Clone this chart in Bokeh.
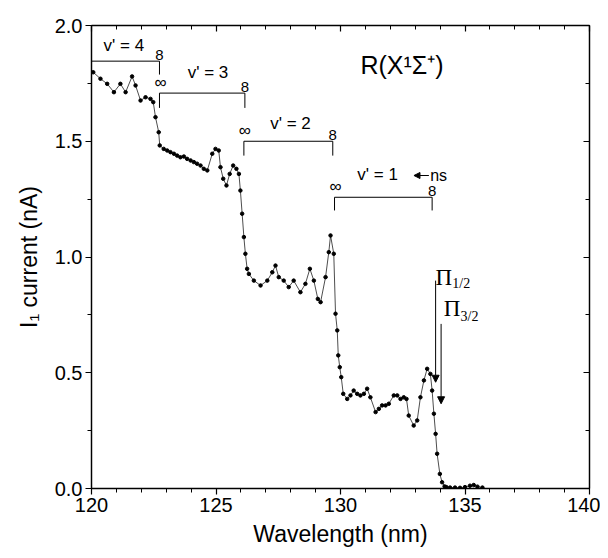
from bokeh.plotting import figure
from bokeh.models import (LinearAxis, SingleIntervalTicker, PrintfTickFormatter,
                          CustomJSTickFormatter, Arrow, NormalHead, ColumnDataSource)
from bokeh.core.properties import value
from bokeh.embed import file_html
from bokeh.resources import INLINE

# ---- data ----
wavelength = [120.07, 120.36, 120.63, 120.90, 121.16, 121.37, 121.63, 121.77, 121.97, 122.17,
              122.37, 122.48, 122.57, 122.70, 122.74, 122.90, 123.04, 123.17, 123.31, 123.44,
              123.57, 123.71, 123.84, 123.98, 124.11, 124.24, 124.38, 124.51, 124.65, 124.85,
              124.98, 125.11, 125.18, 125.29, 125.42, 125.55, 125.69, 125.82, 125.92, 125.98,
              126.05, 126.12, 126.18, 126.25, 126.32, 126.52, 126.79, 127.06, 127.26, 127.39,
              127.52, 127.72, 127.92, 128.12, 128.39, 128.59, 128.77, 128.93, 129.09, 129.20,
              129.40, 129.53, 129.60, 129.73, 129.80, 129.87, 129.91, 129.97, 130.03, 130.11,
              130.27, 130.40, 130.53, 130.67, 130.80, 130.94, 131.07, 131.20, 131.41, 131.54,
              131.67, 131.81, 131.94, 132.14, 132.28, 132.41, 132.54, 132.65, 132.74, 132.94,
              133.08, 133.21, 133.35, 133.48, 133.61, 133.68, 133.75, 133.82, 133.88, 133.99,
              134.08, 134.18, 134.25, 134.40, 134.60, 134.80, 135.00, 135.20, 135.35, 135.50,
              135.70]
current = [1.798, 1.770, 1.748, 1.712, 1.748, 1.712, 1.780, 1.741, 1.676, 1.690,
           1.683, 1.669, 1.604, 1.539, 1.482, 1.467, 1.460, 1.453, 1.446, 1.438,
           1.431, 1.434, 1.424, 1.417, 1.410, 1.403, 1.395, 1.381, 1.374, 1.446,
           1.467, 1.460, 1.388, 1.338, 1.309, 1.359, 1.395, 1.381, 1.359, 1.287,
           1.187, 1.086, 1.014, 0.949, 0.927, 0.898, 0.877, 0.898, 0.934, 0.963,
           0.913, 0.898, 0.870, 0.898, 0.848, 0.884, 0.949, 0.898, 0.819, 0.805,
           0.913, 1.021, 1.093, 1.014, 0.755, 0.683, 0.575, 0.524, 0.481, 0.409,
           0.387, 0.402, 0.423, 0.409, 0.402, 0.409, 0.431, 0.394, 0.330, 0.344,
           0.359, 0.359, 0.366, 0.402, 0.402, 0.387, 0.394, 0.387, 0.315, 0.272,
           0.294, 0.394, 0.467, 0.517, 0.495, 0.423, 0.323, 0.236, 0.150, 0.063,
           0.027, 0.009, 0.006, 0.004, 0.004, 0.003, 0.006, 0.012, 0.015, 0.008,
           0.004]

# bracket annotations (band-head series v' = 4..1)
band_labels = ["v' = 4", "v' = 3", "v' = 2", "v' = 1"]
band_label_x = [121.3, 124.68, 127.99, 131.49]
band_label_y = [1.913, 1.798, 1.575, 1.355]
bracket_start = [120.0, 122.73, 126.12, 129.76]
bracket_end = [122.73, 126.16, 129.69, 133.68]
bracket_y = [1.846, 1.708, 1.500, 1.258]
bracket_drop = [0.058, 0.064, 0.062, 0.057]

x_ticks_major = 5
y_ticks_major = 0.5

p = figure(frame_width=498, frame_height=463, x_range=(120, 140), y_range=(0, 2.0),
           output_backend="svg", toolbar_location=None,
           min_border_left=91, min_border_right=11, min_border_top=25, min_border_bottom=62)
p.xgrid.visible = False
p.ygrid.visible = False
p.background_fill_color = "white"
p.border_fill_color = "white"
p.outline_line_color = "black"
p.outline_line_width = 1.2

FONT = "Liberation Sans"

def style_axis(ax, show_labels, tick_in):
    ax.axis_line_color = "black"
    ax.axis_line_width = 1.3
    ax.major_tick_line_color = "black"
    ax.minor_tick_line_color = "black"
    ax.major_tick_line_width = 1.2
    ax.minor_tick_line_width = 1.0
    if tick_in:
        ax.major_tick_in = 6
        ax.major_tick_out = 0
        ax.minor_tick_in = 4
        ax.minor_tick_out = 0
    else:
        ax.major_tick_in = 0
        ax.major_tick_out = 6
        ax.minor_tick_in = 0
        ax.minor_tick_out = 4
    if show_labels:
        ax.major_label_text_font = FONT
        ax.major_label_text_font_size = "20px"
        ax.major_label_text_color = "black"
    else:
        ax.formatter = CustomJSTickFormatter(code="return ''")

xt = SingleIntervalTicker(interval=x_ticks_major, num_minor_ticks=5)
yt = SingleIntervalTicker(interval=y_ticks_major, num_minor_ticks=2)

p.xaxis.ticker = xt
p.yaxis.ticker = yt
p.xaxis.formatter = PrintfTickFormatter(format="%d")
p.yaxis.formatter = PrintfTickFormatter(format="%.1f")
style_axis(p.xaxis[0], True, False)
style_axis(p.yaxis[0], True, False)
p.xaxis.axis_label = "Wavelength (nm)"
p.yaxis.axis_label = "I\u2081 current (nA)"
for ax in (p.xaxis[0], p.yaxis[0]):
    ax.axis_label_text_font = FONT
    ax.axis_label_text_font_size = "23px"
    ax.axis_label_text_font_style = "normal"
    ax.axis_label_text_color = "black"
p.xaxis.major_label_standoff = 3
p.xaxis.axis_label_standoff = 6
p.yaxis.major_label_standoff = 3
p.yaxis.axis_label_standoff = 10

top = LinearAxis(ticker=SingleIntervalTicker(interval=x_ticks_major, num_minor_ticks=5))
style_axis(top, False, True)
p.add_layout(top, "above")
right = LinearAxis(ticker=SingleIntervalTicker(interval=y_ticks_major, num_minor_ticks=2))
style_axis(right, False, True)
p.add_layout(right, "right")

# data
src = ColumnDataSource(dict(x=wavelength, y=current))
p.line("x", "y", source=src, line_color="black", line_width=0.7)
p.scatter("x", "y", source=src, size=3.5, color="black")

# brackets
p.segment(x0=bracket_start, y0=bracket_y, x1=bracket_end, y1=bracket_y,
          line_color="black", line_width=1)
p.segment(x0=bracket_end, y0=bracket_y, x1=bracket_end,
          y1=[b - d for b, d in zip(bracket_y, bracket_drop)], line_color="black", line_width=1)
p.segment(x0=bracket_start[1:], y0=bracket_y[1:], x1=bracket_start[1:],
          y1=[b - d for b, d in zip(bracket_y[1:], bracket_drop[1:])], line_color="black", line_width=1)
p.text(x=bracket_end, y=[b + 0.004 for b in bracket_y], text=["8"] * 4,
       text_font=value(FONT), text_font_size="15px", text_align="center",
       text_baseline="bottom", text_color="black")
p.text(x=[s + 0.04 for s in bracket_start[1:]], y=[b + 0.004 for b in bracket_y[1:]],
       text=["\u221e"] * 3, text_font=value(FONT), text_font_size="17px",
       text_align="center", text_baseline="bottom", text_color="black")
p.text(x=band_label_x, y=band_label_y, text=band_labels, text_font=value(FONT),
       text_font_size="17px", text_align="center", text_baseline="middle", text_color="black")

# ns arrow
p.add_layout(Arrow(end=NormalHead(size=6, fill_color="black", line_color="black"),
                   x_start=133.55, y_start=1.352, x_end=132.95, y_end=1.352,
                   line_color="black", line_width=1))
p.text(x=[133.6], y=[1.352], text=["ns"], text_font=value(FONT), text_font_size="16px",
       text_align="left", text_baseline="middle", text_color="black")

# title label
p.text(x=[130.8], y=[1.83], text=["R(X\u00b9\u03a3\u207a)"], text_font=value(FONT),
       text_font_size="25px", text_align="left", text_baseline="middle", text_color="black")

# Pi labels and arrows
SERIF = "Liberation Serif"
p.text(x=[133.82, 134.15], y=[0.913, 0.776], text=["\u03a0", "\u03a0"],
       text_font=value(SERIF), text_font_size="23px", text_align="left",
       text_baseline="alphabetic", text_color="black")
p.text(x=[134.49, 134.82], y=[0.887, 0.743], text=["1/2", "3/2"],
       text_font=value(SERIF), text_font_size="14px", text_align="left",
       text_baseline="alphabetic", text_color="black")
for xa, ys, ye in [(133.82, 0.898, 0.459), (134.04, 0.711, 0.366)]:
    p.add_layout(Arrow(end=NormalHead(size=7, fill_color="black", line_color="black"),
                       x_start=xa, y_start=ys, x_end=xa, y_end=ye,
                       line_color="black", line_width=1))

open("out.html", "w").write(file_html(p, INLINE))
